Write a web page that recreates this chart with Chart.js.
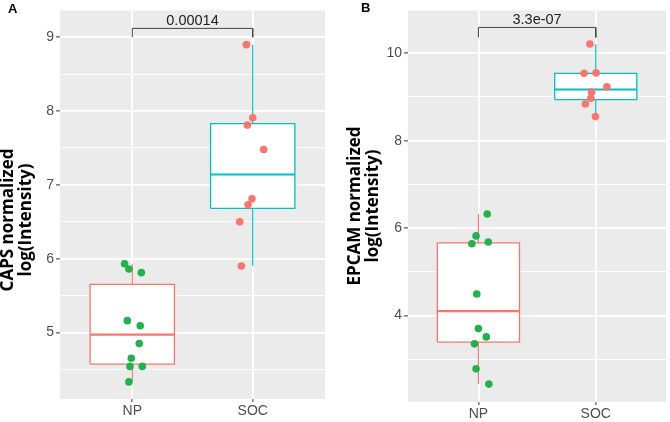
<!DOCTYPE html>
<html><head><meta charset="utf-8">
<script src="https://cdn.jsdelivr.net/npm/chart.js@4.4.0/dist/chart.umd.min.js"></script>
<style>
html,body{margin:0;padding:0;background:#fff;width:670px;height:422px;overflow:hidden}
.wrap{position:absolute;top:0;width:335px;height:422px}
.lbl{position:absolute;font:bold 13px "Liberation Sans",Arial,sans-serif;color:#000}
</style></head><body>
<div class="wrap" style="left:0"><canvas id="cA" width="335" height="422" style="width:335px;height:422px"></canvas></div>
<div class="wrap" style="left:335px"><canvas id="cB" width="335" height="422" style="width:335px;height:422px"></canvas></div>
<div class="lbl" style="left:8px;top:1px">A</div>
<div class="lbl" style="left:361px;top:0px">B</div>
<script>
// ---- data ----
const categories = ['NP', 'SOC'];

const capsTitle = ['CAPS normalized', 'log(Intensity)'];
const capsNP = [5.93, 5.86, 5.81, 5.16, 5.09, 4.85, 4.65, 4.54, 4.54, 4.33];
const capsNPJitter = [-0.064, -0.028, 0.075, -0.041, 0.066, 0.058, -0.008, -0.019, 0.083, -0.028];
const capsSOC = [8.90, 7.91, 7.81, 7.48, 6.81, 6.73, 6.50, 5.90];
const capsSOCJitter = [-0.052, 0, -0.044, 0.091, -0.006, -0.039, -0.108, -0.094];
// [lower whisker, Q1, median, Q3, upper whisker]
const capsNPBox = [4.33, 4.57, 4.97, 5.65, 5.93];
const capsSOCBox = [5.90, 6.68, 7.14, 7.83, 8.90];
const capsP = '0.00014';
const capsBracket = [9.0, 9.12];
const capsMajorTicks = [5, 6, 7, 8, 9];
const capsMinorTicks = [4.5, 5.5, 6.5, 7.5, 8.5];

const epcamTitle = ['EPCAM normalized', 'log(Intensity)'];
const epcamNP = [6.32, 5.82, 5.64, 5.68, 4.49, 3.70, 3.51, 3.35, 2.78, 2.43];
const epcamNPJitter = [0.075, -0.02, -0.056, 0.084, -0.014, 0, 0.067, -0.034, -0.02, 0.089];
const epcamSOC = [10.21, 9.54, 9.55, 9.23, 9.11, 8.97, 8.84, 8.55];
const epcamSOCJitter = [-0.05, -0.10, 0.003, 0.095, -0.036, -0.042, -0.089, -0.003];
const epcamNPBox = [2.43, 3.39, 4.10, 5.66, 6.32];
const epcamSOCBox = [8.55, 8.94, 9.17, 9.54, 10.21];
const epcamP = '3.3e-07';
const epcamBracket = [10.36, 10.59];
const epcamMajorTicks = [4, 6, 8, 10];
const epcamMinorTicks = [3, 5, 7, 9];

// ---- styling ----
const pointColors = ['#22B24C', '#F8766D'];
const boxColors = ['#F8766D', '#00BFC4'];
const HALF = 0.35;
const tickFont = {family: '"Liberation Sans", Arial, sans-serif', size: 14};

function boxDatasets(c, s, color) {
  const [lo, q1, med, q3, hi] = s;
  const line = {type: 'scatter', showLine: true, pointRadius: 0, borderColor: color, tension: 0, fill: false};
  return [
    Object.assign({}, line, {data: [{x: c - HALF, y: med}, {x: c + HALF, y: med}], borderWidth: 2.2, order: 1}),
    Object.assign({}, line, {data: [{x: c, y: q3}, {x: c, y: hi}], borderWidth: 1.2, order: 2}),
    Object.assign({}, line, {data: [{x: c, y: q1}, {x: c, y: lo}], borderWidth: 1.2, order: 2}),
    Object.assign({}, line, {data: [{x: c - HALF, y: q1}, {x: c + HALF, y: q1}, {x: c + HALF, y: q3}, {x: c - HALF, y: q3}, {x: c - HALF, y: q1}],
      borderWidth: 1.3, fill: 'shape', backgroundColor: '#FFFFFF', order: 3})
  ];
}

function pointsDataset(c, vals, jit, color) {
  return {type: 'scatter', data: vals.map((v, i) => ({x: c + jit[i], y: v})), pointRadius: 3.8,
    pointHoverRadius: 3.8, backgroundColor: color, borderWidth: 0, showLine: false, order: 0};
}

function makeChart(id, o) {
  const allTicks = o.major.concat(o.minor).sort((a, b) => a - b);
  const datasets = [
    pointsDataset(0, o.np, o.npJit, pointColors[0]),
    pointsDataset(1, o.soc, o.socJit, pointColors[1]),
    ...boxDatasets(0, o.npBox, boxColors[0]),
    ...boxDatasets(1, o.socBox, boxColors[1]),
    {type: 'scatter', showLine: true, pointRadius: 0, borderColor: '#444', borderWidth: 1, fill: false, order: 1,
      data: [{x: 0, y: o.bracket[0]}, {x: 0, y: o.bracket[1]}, {x: 1, y: o.bracket[1]}, {x: 1, y: o.bracket[0]}]}
  ];
  const deco = {
    id: 'deco' + id,
    beforeDraw(ch) {
      const a = ch.chartArea, ctx = ch.ctx;
      ctx.save(); ctx.fillStyle = '#EBEBEB';
      ctx.fillRect(a.left, a.top, a.right - a.left, a.bottom - a.top); ctx.restore();
    },
    afterDatasetsDraw(ch) {
      const ctx = ch.ctx, xs = ch.scales.x, ys = ch.scales.y;
      ctx.save();
      ctx.fillStyle = '#222';
      ctx.font = '14.5px "Liberation Sans", Arial, sans-serif';
      ctx.textAlign = 'center'; ctx.textBaseline = 'alphabetic';
      ctx.fillText(o.p, xs.getPixelForValue(0.5), ys.getPixelForValue(o.bracket[1]) - 3);
      // y axis title
      ctx.fillStyle = '#000';
      ctx.font = 'bold 17px "Open Sans", sans-serif';
      ctx.textBaseline = 'middle';
      o.title.forEach((t, i) => {
        ctx.save();
        ctx.translate(o.titleX[i], o.titleY);
        ctx.rotate(-Math.PI / 2);
        ctx.fillText(t, 0, 0);
        ctx.restore();
      });
      ctx.restore();
    }
  };
  return new Chart(document.getElementById(id), {
    type: 'scatter',
    data: {datasets},
    plugins: [deco],
    options: {
      responsive: false, animation: false, events: [],
      layout: {padding: o.pad},
      plugins: {legend: {display: false}, tooltip: {enabled: false}},
      scales: {
        x: {
          type: 'linear', min: -0.6, max: 1.6,
          afterBuildTicks: s => { s.ticks = categories.map((c, i) => ({value: i})); },
          afterFit: s => { s.height = o.xh; },
          grid: {color: '#FFFFFF', lineWidth: 1.8, tickColor: '#333', tickLength: 3, tickWidth: 1},
          border: {display: false},
          ticks: {callback: v => categories[v], color: '#4D4D4D', font: tickFont, padding: 1, maxRotation: 0, autoSkip: false}
        },
        y: {
          type: 'linear', min: o.min, max: o.max,
          afterBuildTicks: s => { s.ticks = allTicks.map(v => ({value: v})); },
          afterFit: s => { s.width = o.yw; },
          grid: {
            color: '#FFFFFF',
            lineWidth: c => (o.major.includes(c.tick && c.tick.value) ? 1.8 : 0.9),
            tickColor: c => (o.major.includes(c.tick && c.tick.value) ? '#333' : 'rgba(0,0,0,0)'),
            tickLength: 4, tickWidth: 1
          },
          border: {display: false},
          ticks: {callback: v => (o.major.includes(v) ? String(v) : ''), color: '#4D4D4D', font: tickFont, padding: 2, autoSkip: false}
        }
      }
    }
  });
}

makeChart('cA', {
  np: capsNP, npJit: capsNPJitter, soc: capsSOC, socJit: capsSOCJitter,
  npBox: capsNPBox, socBox: capsSOCBox, p: capsP, bracket: capsBracket,
  major: capsMajorTicks, minor: capsMinorTicks, min: 4.098, max: 9.364,
  title: capsTitle, titleX: [8.5, 26], titleY: 220,
  pad: {left: 0, right: 10, top: 8, bottom: 0}, yw: 60, xh: 23
});
makeChart('cB', {
  np: epcamNP, npJit: epcamNPJitter, soc: epcamSOC, socJit: epcamSOCJitter,
  npBox: epcamNPBox, socBox: epcamSOCBox, p: epcamP, bracket: epcamBracket,
  major: epcamMajorTicks, minor: epcamMinorTicks, min: 2.02, max: 10.98,
  title: epcamTitle, titleX: [20.5, 38], titleY: 206,
  pad: {left: 0, right: 2, top: 7, bottom: 0}, yw: 73, xh: 20
});
</script>
</body></html>
